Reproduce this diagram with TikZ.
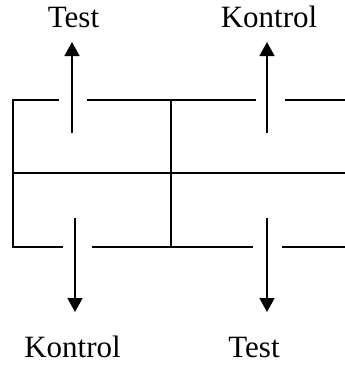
\documentclass[tikz,border=0pt]{standalone}
\usepackage{fontspec}
\setmainfont{Liberation Serif}
\usetikzlibrary{arrows.meta}
\begin{document}
\begin{tikzpicture}[x=1pt,y=-1pt,
  wall/.style={line width=1.5pt,black},
  flow/.style={line width=1.5pt,black,-{Triangle[width=15pt,length=14pt]}},
  lbl/.style={anchor=base,inner sep=0pt,font=\fontsize{31}{35}\selectfont}]
\useasboundingbox (0,0) rectangle (345,365);
% walls
\coordinate (tl) at (13,100);
\coordinate (bl) at (13,247);
\coordinate (ml) at (13,173);
\coordinate (mr) at (345,173);
\coordinate (tm) at (171,100);
\coordinate (bm) at (171,247);
\draw[wall] (59,100) -- (tl) -- (bl) -- (63,247);
\draw[wall] (87,100) -- (256,100);
\draw[wall] (285,100) -- (345,100);
\draw[wall] (92,247) -- (253,247);
\draw[wall] (282,247) -- (345,247);
\draw[wall] (ml) -- (mr);
\draw[wall] (tm) -- (bm);
% labels
\node[lbl] (t1) at (73.5,27) {Test};
\node[lbl] (k1) at (269,27) {Kontrol};
\node[lbl] (k2) at (72.5,357) {Kontrol};
\node[lbl] (t2) at (254,357) {Test};
% arrows
\coordinate (a1s) at (72,133); \coordinate (a1e) at (72,42);
\coordinate (a2s) at (267,133); \coordinate (a2e) at (267,42);
\coordinate (a3s) at (75,218); \coordinate (a3e) at (75,312);
\coordinate (a4s) at (267,218); \coordinate (a4e) at (267,312);
\draw[flow] (a1s) -- (a1e);
\draw[flow] (a2s) -- (a2e);
\draw[flow] (a3s) -- (a3e);
\draw[flow] (a4s) -- (a4e);
\end{tikzpicture}
\end{document}
